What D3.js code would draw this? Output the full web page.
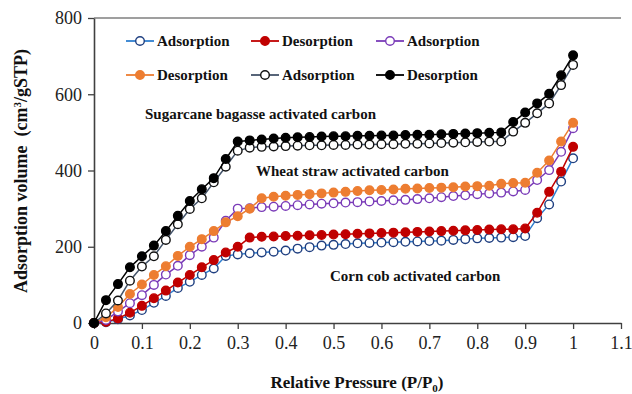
<!DOCTYPE html>
<html>
<head>
<meta charset="utf-8">
<script src="https://cdn.jsdelivr.net/npm/d3@7"></script>
<style>
  body { margin: 0; background: #fff; }
  text { font-family: "Liberation Serif", "Times New Roman", serif; }
</style>
</head>
<body>
<svg id="chart" width="632" height="394"></svg>
<script>
// relative pressure P/P0
var pressure = [0, 0.025, 0.05, 0.075, 0.1, 0.125, 0.15, 0.175, 0.2, 0.225, 0.25, 0.275, 0.3, 0.325, 0.35, 0.375,
  0.4, 0.425, 0.45, 0.475, 0.5, 0.525, 0.55, 0.575, 0.6, 0.625, 0.65, 0.675, 0.7, 0.725, 0.75, 0.775,
  0.8, 0.825, 0.85, 0.875, 0.9, 0.925, 0.95, 0.975, 1];

var cornAds = [0, 2, 10, 20, 34, 53, 71, 92, 108, 126, 143, 176, 180, 183, 185, 187,
  190, 195, 199, 203, 205, 207, 209, 210, 211, 212, 213, 214, 215, 216, 218, 220,
  222, 223, 224, 225, 228, 275, 311, 371, 432];
var cornDes = [0, 3, 12, 27, 45, 65, 85, 106, 126, 146, 165, 185, 200, 224, 226, 227,
  228, 229, 230, 231, 232, 233, 234, 235, 236, 237, 238, 239, 240, 241, 242, 243,
  244, 245, 246, 246, 248, 289, 344, 397, 462];
var wheatAds = [0, 8, 30, 52, 73, 100, 127, 150, 178, 200, 224, 268, 300, 301, 304, 305,
  307, 309, 311, 313, 314, 316, 317, 319, 320, 322, 323, 325, 327, 330, 333, 335,
  338, 340, 342, 345, 349, 375, 401, 449, 511];
var wheatDes = [0, 15, 42, 76, 101, 126, 149, 176, 200, 220, 241, 264, 280, 300, 327, 331,
  334, 336, 338, 340, 342, 344, 346, 348, 349, 350, 352, 353, 354, 355, 356, 358,
  359, 360, 365, 367, 368, 394, 426, 476, 525];
var sugarAds = [0, 25, 59, 111, 148, 175, 218, 259, 299, 327, 369, 410, 452, 460, 462, 463,
  464, 465, 466, 466, 467, 467, 468, 468, 469, 469, 470, 470, 471, 472, 473, 474,
  475, 476, 476, 502, 525, 550, 576, 624, 677];
var sugarDes = [0, 60, 102, 146, 175, 203, 241, 281, 320, 351, 380, 430, 476, 479, 481, 484,
  486, 487, 488, 489, 490, 490, 491, 491, 492, 492, 493, 494, 494, 495, 496, 497,
  498, 499, 500, 527, 552, 576, 601, 650, 702];

var xTicks = [0, 0.1, 0.2, 0.3, 0.4, 0.5, 0.6, 0.7, 0.8, 0.9, 1, 1.1];
var yTicks = [0, 200, 400, 600, 800];

var series = [
  {name: "Adsorption", values: cornAds,  line: "#2f7fd0", stroke: "#1f3f80", fill: "#fff"},
  {name: "Desorption", values: cornDes,  line: "#c00000", stroke: "#c00000", fill: "#c00000"},
  {name: "Adsorption", values: wheatAds, line: "#7a3bb8", stroke: "#7a3bb8", fill: "#fff"},
  {name: "Desorption", values: wheatDes, line: "#ed7d31", stroke: "#ed7d31", fill: "#ed7d31"},
  {name: "Adsorption", values: sugarAds, line: "#44546a", stroke: "#111", fill: "#fff"},
  {name: "Desorption", values: sugarDes, line: "#000", stroke: "#000", fill: "#000"}
];

function drawIsotherms() {

   var svg = d3.select('#chart');
   var plotLeft = 94, plotRight = 621, plotTop = 18, plotBottom = 323;

   var x = d3.scaleLinear().domain([0, 1.1]).range([plotLeft, plotRight]);
   var y = d3.scaleLinear().domain([0, 800]).range([plotBottom, plotTop]);

   // top frame line
   svg.append('line')
      .attr('x1', plotLeft).attr('x2', plotRight).attr('y1', plotTop).attr('y2', plotTop)
      .attr('stroke', '#404040').attr('stroke-width', 1.2);

   var xAxis = svg.append('g')
      .attr('transform', 'translate(0,' + plotBottom + ')')
      .call(d3.axisBottom(x).tickValues(xTicks).tickSize(6).tickSizeOuter(0)
         .tickFormat(function(d) { return d3.format('~g')(d); }));

   var yAxis = svg.append('g')
      .attr('transform', 'translate(' + plotLeft + ',0)')
      .call(d3.axisLeft(y).tickValues(yTicks).tickSize(6).tickSizeOuter(0));

   [xAxis, yAxis].forEach(function(g) {
      g.select('.domain').attr('stroke', '#404040').attr('stroke-width', 1.6);
      g.selectAll('.tick line').attr('stroke', '#404040').attr('stroke-width', 1.3);
      g.selectAll('.tick text')
       .style('font-family', '"Liberation Serif", serif')
       .style('font-size', '18px')
       .attr('fill', '#222');
   });
   xAxis.selectAll('.tick text').attr('dy', '0.71em').attr('y', 13);
   yAxis.selectAll('.tick text').attr('x', -12);

   var line = d3.line()
      .x(function(d, i) { return x(pressure[i]); })
      .y(function(d) { return y(d); });

   series.forEach(function(s) {
      var g = svg.append('g');
      g.append('path')
       .attr('d', line(s.values))
       .attr('fill', 'none')
       .attr('stroke', s.line)
       .attr('stroke-width', 1.5);
      g.selectAll('circle')
       .data(s.values)
       .enter().append('circle')
       .attr('cx', function(d, i) { return x(pressure[i]); })
       .attr('cy', function(d) { return y(d); })
       .attr('r', 4.3)
       .attr('fill', s.fill)
       .attr('stroke', s.stroke)
       .attr('stroke-width', 1.4);
   });

   // legend, 3 columns x 2 rows
   var legCols = [126, 251, 376], legRows = [41, 75];
   series.forEach(function(s, i) {
      var lx = legCols[i % 3], ly = legRows[Math.floor(i / 3)];
      var g = svg.append('g').attr('transform', 'translate(' + lx + ',' + ly + ')');
      g.append('line')
       .attr('x1', 0).attr('x2', 28).attr('y1', 0).attr('y2', 0)
       .attr('stroke', s.line).attr('stroke-width', 1.8);
      g.append('circle')
       .attr('cx', 14).attr('cy', 0).attr('r', 4.3)
       .attr('fill', s.fill).attr('stroke', s.stroke).attr('stroke-width', 1.4);
      g.append('text')
       .attr('x', 31).attr('y', 5)
       .style('font-size', '15px')
       .style('font-weight', 'bold')
       .attr('fill', '#111')
       .text(s.name);
   });

   // curve labels
   var notes = [
      {text: "Sugarcane bagasse activated carbon", x: 145, y: 119},
      {text: "Wheat straw activated carbon", x: 256, y: 176},
      {text: "Corn cob activated carbon", x: 330, y: 281}
   ];
   svg.selectAll('.note')
      .data(notes)
      .enter().append('text')
      .attr('class', 'note')
      .attr('x', function(d) { return d.x; })
      .attr('y', function(d) { return d.y; })
      .style('font-size', '15px')
      .style('font-weight', 'bold')
      .attr('fill', '#111')
      .text(function(d) { return d.text; });

   // axis titles
   var xt = svg.append('text')
      .attr('x', 357).attr('y', 388)
      .attr('text-anchor', 'middle')
      .style('font-size', '17px')
      .style('font-weight', 'bold')
      .attr('fill', '#111');
   xt.append('tspan').text('Relative Pressure (P/P');
   xt.append('tspan').attr('dy', 4).style('font-size', '11px').text('0');
   xt.append('tspan').attr('dy', -4).text(')');

   var yt = svg.append('text')
      .attr('transform', 'translate(27,171) rotate(-90)')
      .attr('text-anchor', 'middle')
      .style('font-size', '18px')
      .style('font-weight', 'bold')
      .attr('fill', '#111');
   yt.append('tspan').text('Adsorption volume\u00a0 (cm');
   yt.append('tspan').attr('dy', -6).style('font-size', '11px').text('3');
   yt.append('tspan').attr('dy', 6).text('/gSTP)');
}

drawIsotherms();
</script>
</body>
</html>
